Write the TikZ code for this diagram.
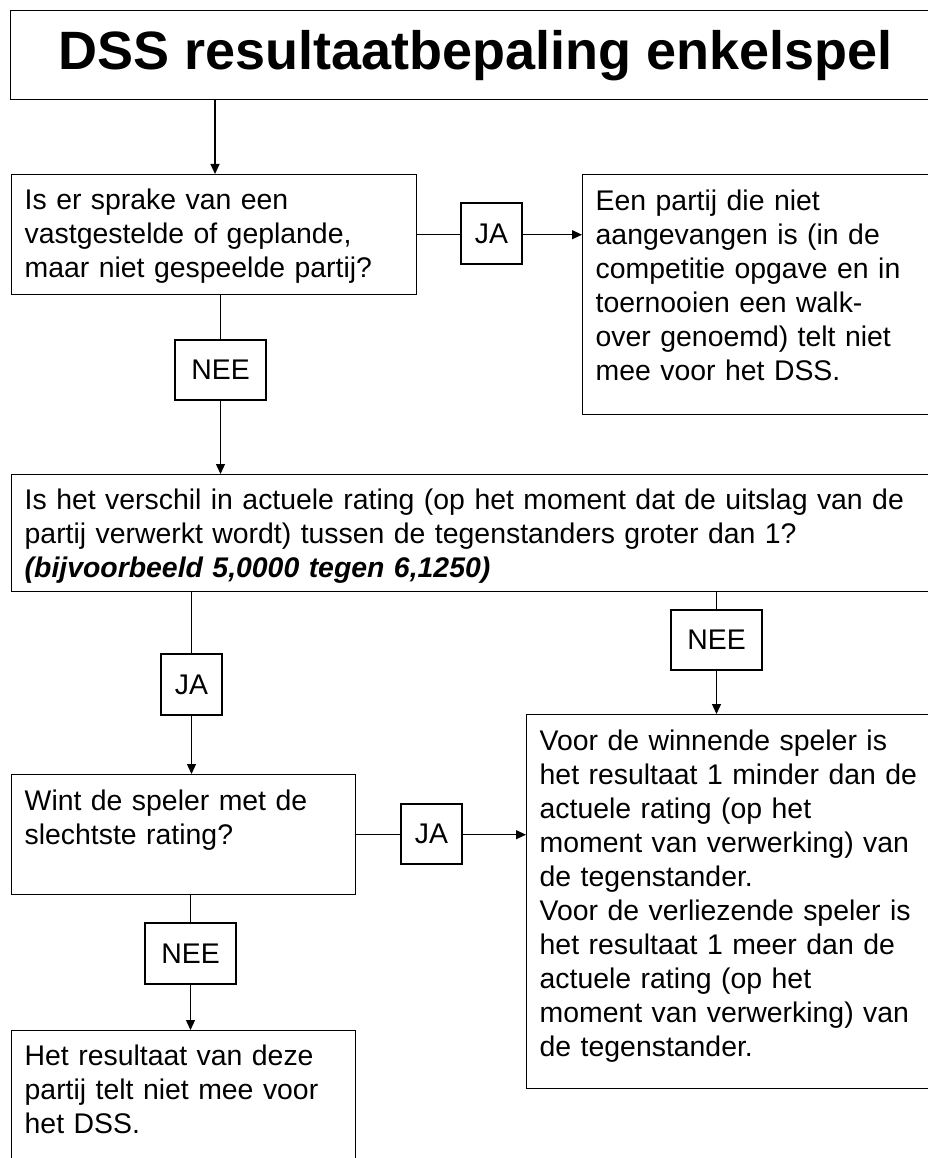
\documentclass[tikz,border=0pt]{standalone}
\usepackage{fontspec}
\setmainfont{Liberation Sans}
\usetikzlibrary{arrows.meta}
\begin{document}
\begin{tikzpicture}[x=1pt,y=-1pt,
  box/.style={draw, line width=1.4pt, anchor=north west, align=left,
    inner xsep=13pt, inner ysep=0pt, font=\fontsize{28.4}{34}\selectfont},
  lbl/.style={draw, line width=1.4pt, inner sep=0pt,
    font=\fontsize{28.4}{34}\selectfont, minimum height=61pt},
  con/.style={line width=1.3pt},
  arr/.style={line width=1.3pt, -{Triangle[length=10pt,width=9pt]}}]
\useasboundingbox (0,0) rectangle (928,1158);
\clip (0,0) rectangle (928,1158);

% title
\node[draw, line width=1.4pt, anchor=north west, minimum width=929pt,
  minimum height=89pt, inner sep=0pt,
  font=\fontsize{54}{60}\selectfont\bfseries] (title) at (10,10)
  {DSS resultaatbepaling enkelspel};

% boxes
\node[box, text width=379pt, text height=35pt, text depth=85pt] (Q1) at (11,174)
  {Is er sprake van een\\vastgestelde of geplande,\\maar niet gespeelde partij?};
\node[box, text width=334pt, text height=36pt, text depth=204pt] (A1) at (582,174)
  {Een partij die niet\\aangevangen is (in de\\competitie opgave en in\\toernooien een walk-\\over genoemd) telt niet\\mee voor het DSS.};
\node[box, text width=903pt, text height=34.3pt, text depth=82.7pt] (Q2) at (11,474)
  {Is het verschil in actuele rating (op het moment dat de uitslag van de\\partij verwerkt wordt) tussen de tegenstanders groter dan 1?\\\textbf{\textit{(bijvoorbeeld 5,0000 tegen 6,1250)}}};
\node[box, text width=318pt, text height=35.3pt, text depth=84.7pt] (Q3) at (11,774)
  {Wint de speler met de\\slechtste rating?};
\node[box, text width=390pt, text height=35.3pt, text depth=338.7pt] (A2) at (526,714)
  {Voor de winnende speler is\\het resultaat 1 minder dan de\\actuele rating (op het\\moment van verwerking) van\\de tegenstander.\\Voor de verliezende speler is\\het resultaat 1 meer dan de\\actuele rating (op het\\moment van verwerking) van\\de tegenstander.};
\node[box, text width=318pt, text height=35pt, text depth=200pt] (A3) at (11,1030)
  {Het resultaat van deze\\partij telt niet mee voor\\het DSS.};

% labels
\node[lbl, minimum width=61pt] (JA1) at (491.5,233.5) {JA};
\node[lbl, minimum width=91pt, minimum height=60pt] (NEE1) at (220.5,370) {NEE};
\node[lbl, minimum width=61pt] (JA2) at (191.5,684.5) {JA};
\node[lbl, minimum width=91pt, minimum height=60pt] (NEE2) at (716.5,640) {NEE};
\node[lbl, minimum width=61pt, minimum height=60pt] (JA3) at (431.5,834) {JA};
\node[lbl, minimum width=91pt] (NEE3) at (190.5,953.5) {NEE};

% connectors
\coordinate (q1in) at (215,174);
\draw[arr] (title.south -| q1in) -- (q1in);

\draw[con] (Q1.east) -- (JA1.west |- Q1.east);
\draw[arr] (JA1.east |- Q1.east) -- (A1.west |- Q1.east);

\draw[con] (NEE1.north |- Q1.south) -- (NEE1.north);
\draw[arr] (NEE1.south) -- (NEE1.south |- Q2.north);

\draw[con] (JA2.north |- Q2.south) -- (JA2.north);
\draw[arr] (JA2.south) -- (JA2.south |- Q3.north);

\draw[con] (NEE2.north |- Q2.south) -- (NEE2.north);
\draw[arr] (NEE2.south) -- (NEE2.south |- A2.north);

\draw[con] (Q3.east) -- (JA3.west |- Q3.east);
\draw[arr] (JA3.east |- Q3.east) -- (A2.west |- Q3.east);

\draw[con] (NEE3.north |- Q3.south) -- (NEE3.north);
\draw[arr] (NEE3.south) -- (NEE3.south |- A3.north);
\end{tikzpicture}
\end{document}
